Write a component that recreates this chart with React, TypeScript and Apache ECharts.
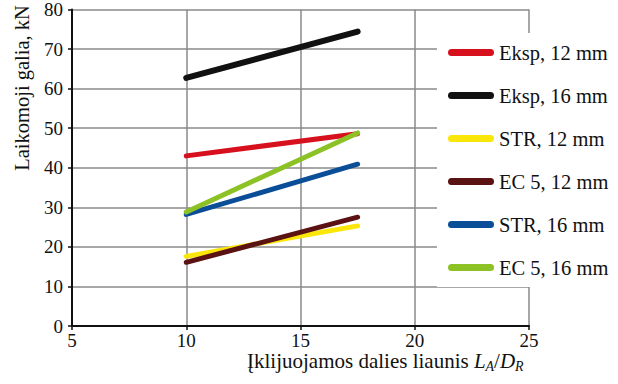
import React, { useEffect, useRef } from "react";
import * as echarts from "echarts";

const xValues = [10, 17.5];
const seriesNames = ["Eksp, 12 mm", "Eksp, 16 mm", "STR, 12 mm", "EC 5, 12 mm", "STR, 16 mm", "EC 5, 16 mm"];
const eksp12 = [43, 48.6];
const eksp16 = [62.7, 74.4];
const str12 = [17.6, 25.3];
const ec512 = [16.1, 27.5];
const str16 = [28.2, 40.9];
const ec516 = [28.8, 48.8];
const seriesValues = [eksp12, eksp16, str12, ec512, str16, ec516];
const seriesColors = ["#d7101e", "#111111", "#fbe60a", "#5a1212", "#0b4e98", "#8dc226"];
const xTicks = { min: 5, max: 25, interval: 5 };
const yTicks = { min: 0, max: 80, interval: 10 };

const FONT = "Liberation Serif";

export default function App() {
  const ref = useRef<HTMLDivElement>(null);
  useEffect(() => {
    if (!ref.current) return;
    const chart = echarts.init(ref.current, null, { renderer: "svg" });
    chart.setOption({
      animation: false,
      backgroundColor: "#fff",
      textStyle: { fontFamily: FONT },
      grid: { left: 72, right: 89, top: 6, bottom: 58, containLabel: false },
      xAxis: {
        type: "value",
        min: xTicks.min,
        max: xTicks.max,
        interval: xTicks.interval,
        axisLine: { show: true, onZero: false, lineStyle: { color: "#111", width: 2 } },
        axisTick: { show: true, length: 4, lineStyle: { color: "#111", width: 1.5 } },
        axisLabel: { fontFamily: FONT, fontSize: 19, color: "#111", margin: 5 },
        splitLine: { show: true, lineStyle: { color: "#8a8a8a", width: 1.5 } },
      },
      yAxis: {
        type: "value",
        min: yTicks.min,
        max: yTicks.max,
        interval: yTicks.interval,
        axisLine: { show: true, lineStyle: { color: "#111", width: 2 } },
        axisTick: { show: true, length: 4, lineStyle: { color: "#111", width: 1.5 } },
        axisLabel: { fontFamily: FONT, fontSize: 19, color: "#111", margin: 9 },
        splitLine: { show: true, lineStyle: { color: "#8a8a8a", width: 1.5 } },
      },
      legend: {
        orient: "vertical",
        left: 437,
        top: 33,
        padding: [9, 8, 9, 11],
        backgroundColor: "#fff",
        itemWidth: 46,
        itemHeight: 7,
        itemGap: 22,
        itemStyle: { borderWidth: 0 },
        icon: "path://M3.5,0 L42.5,0 A3.5,3.5 0 0 1 42.5,7 L3.5,7 A3.5,3.5 0 0 1 3.5,0 Z",
        textStyle: { fontFamily: FONT, fontSize: 20.5, color: "#111" },
        data: seriesNames,
      },
      series: seriesNames.map((name, i) => ({
        name,
        type: "line",
        data: xValues.map((x, j) => [x, seriesValues[i][j]]),
        showSymbol: false,
        symbol: "none",
        color: seriesColors[i],
        lineStyle: { color: seriesColors[i], width: i === 1 ? 6 : 5, cap: "round" },
        z: 2 + i,
      })),
      graphic: [
        {
          type: "text",
          x: 22,
          y: 88,
          rotation: Math.PI / 2,
          style: {
            text: "Laikomoji galia, kN",
            fontFamily: FONT,
            fontSize: 20.5,
            fill: "#111",
            align: "center",
            verticalAlign: "middle",
          },
        },
        {
          type: "text",
          x: 247,
          y: 361,
          style: {
            text: "{n|Įklijuojamos dalies liaunis }{i|L}{s|A}{n|/}{i|D}{s|R}",
            fontFamily: FONT,
            fontSize: 21,
            fill: "#111",
            align: "left",
            verticalAlign: "middle",
            rich: {
              n: { fontFamily: FONT, fontSize: 21, fill: "#111", lineHeight: 24, verticalAlign: "middle" },
              i: { fontFamily: FONT, fontSize: 21, fontStyle: "italic", fill: "#111", lineHeight: 24, verticalAlign: "middle" },
              s: { fontFamily: FONT, fontSize: 14, fontStyle: "italic", fill: "#111", lineHeight: 12, verticalAlign: "bottom" },
            },
          },
        },
      ],
    });
    return () => chart.dispose();
  }, []);
  return <div ref={ref} style={{ width: 618, height: 384, position: "fixed", left: 0, top: 0 }} />;
}
